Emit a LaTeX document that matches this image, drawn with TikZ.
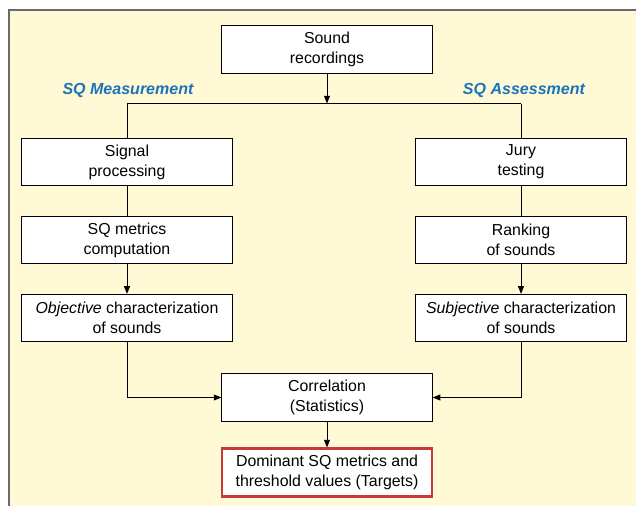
\documentclass[tikz,border=0pt]{standalone}
\usepackage{fontspec}
\setmainfont{Liberation Sans}
\usetikzlibrary{arrows.meta,positioning,calc}
\definecolor{cream}{HTML}{FFF9D6}
\definecolor{sqblue}{HTML}{1A74BA}
\definecolor{framegray}{HTML}{6A6A6A}
\definecolor{targetred}{HTML}{C83A3A}
\tikzset{
  stepbox/.style={draw,line width=.7pt,fill=white,minimum width=5.25cm,minimum height=1.18cm,
    align=center,inner sep=2pt,font=\fontsize{11.3}{14.2}\selectfont},
  targetbox/.style={stepbox,draw=targetred,line width=2pt},
  sqlabel/.style={text=sqblue,font=\fontsize{11.4}{13}\selectfont\bfseries\itshape},
  flow/.style={line width=.7pt},
  flowarr/.style={flow,-{Triangle[length=5.5pt,width=4.2pt]}}
}

\begin{document}
\begin{tikzpicture}[x=.025cm,y=-.025cm]
\useasboundingbox (0,0) rectangle (636,506);
\fill[cream] (9,10) rectangle (636,506);
\draw[framegray,line width=1pt] (9,506)--(9,10)--(636,10);
% boxes
\node[stepbox] (sound) at (327,49.5){Sound\\recordings};
\node[stepbox] (sig) at (127,162){Signal\\processing};
\node[stepbox] (jury) at (521,162){Jury\\testing};
\node[stepbox] (metr) at (127,240){SQ metrics\\computation};
\node[stepbox] (rank) at (521,240){Ranking\\of sounds};
\node[stepbox] (obj) at (127,318){\textit{Objective} characterization\\of sounds};
\node[stepbox] (subj) at (521,318){\textit{Subjective} characterization\\of sounds};
\node[stepbox] (corr) at (327,397.5){Correlation\\(Statistics)};
\node[targetbox] (target) at (327,472.5){Dominant SQ metrics and\\threshold values (Targets)};
\node[sqlabel] (meas) at (128,90){SQ Measurement};
\node[sqlabel] (asse) at (524,90){SQ Assessment};
% connectors
\coordinate (split) at (327,103.5);
\coordinate (splitL) at (sig.north |- split);
\coordinate (splitR) at (jury.north |- split);
\draw[flowarr] (sound) -- (split);
\draw[flow] (splitL) -- (splitR);
\draw[flow] (splitL) -- (sig);\draw[flow] (splitR) -- (jury);
\draw[flow] (sig) -- (metr);\draw[flow] (jury) -- (rank);
\draw[flowarr] (metr) -- (obj);\draw[flowarr] (rank) -- (subj);
\draw[flowarr] (obj) |- (corr);\draw[flowarr] (subj) |- (corr);
\draw[flowarr] (corr) -- (target);
\end{tikzpicture}
\end{document}
